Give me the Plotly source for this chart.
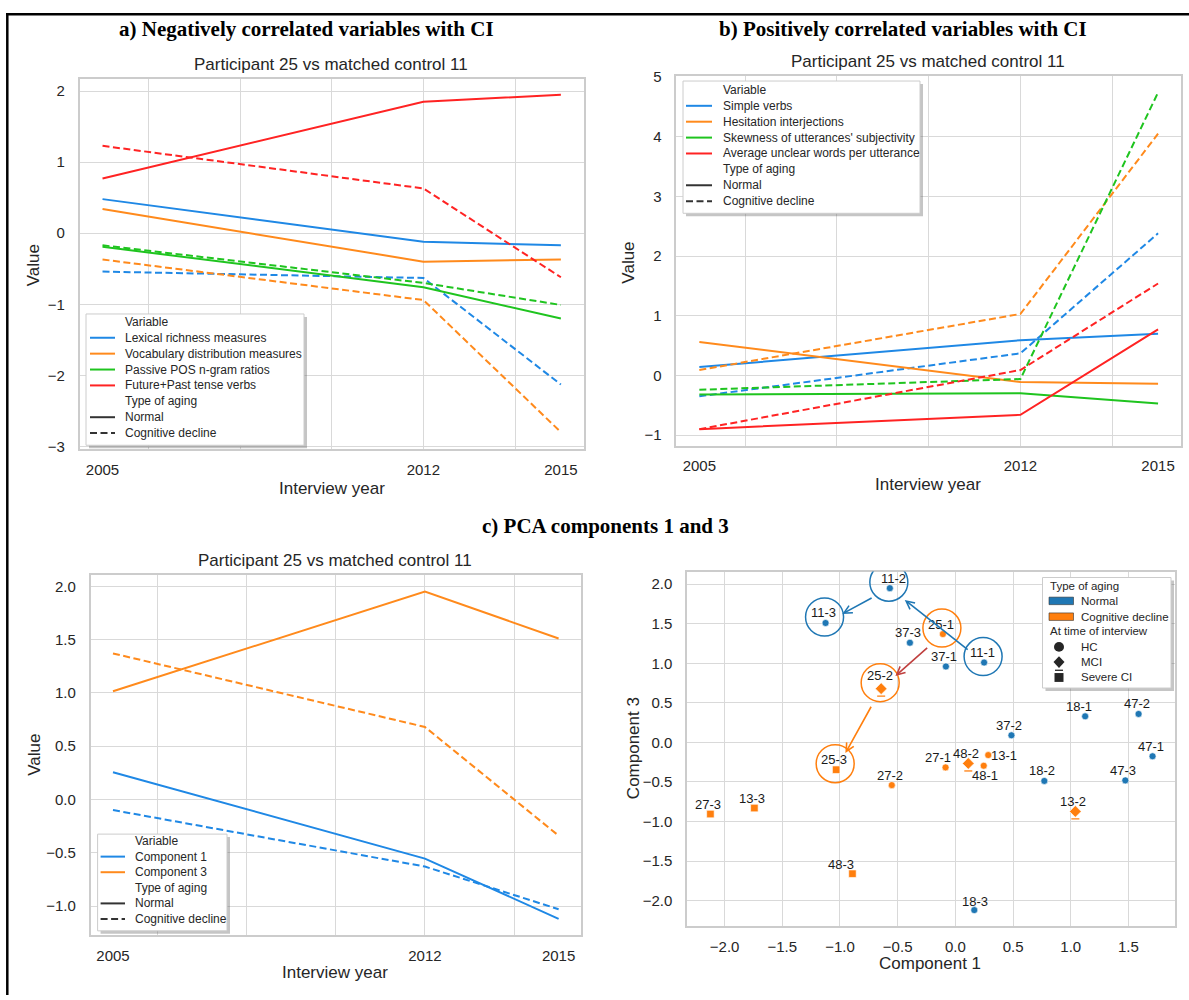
import plotly.graph_objects as go

W, H = 1189, 1000
FONT = "Liberation Sans, Arial, Helvetica, sans-serif"
SERIF = "Liberation Serif, Times New Roman, serif"
TEXT = "#262626"
GRID = "#d9d9d9"
FRAME = "#cccccc"
LINE_COLORS = ["#1f88e5", "#ff8a1c", "#1fc41f", "#ff2323"]
DASH = "7px,3.5px"
PCA_COLORS = {"Normal": "#1f77b4", "Cognitive decline": "#ff7f0e"}

# ---------------- data ----------------
years = [2005, 2012, 2015]
grid_years = [2006, 2008, 2010, 2012, 2014]

# a) variables negatively correlated with cognitive impairment
neg_variables = ["Lexical richness measures", "Vocabulary distribution measures",
                 "Passive POS n-gram ratios", "Future+Past tense verbs"]
neg_normal = [
    [0.48, -0.12, -0.17],
    [0.34, -0.40, -0.37],
    [-0.19, -0.76, -1.20],
    [0.77, 1.85, 1.95],
]
neg_decline = [
    [-0.54, -0.63, -2.13],
    [-0.37, -0.94, -2.80],
    [-0.17, -0.70, -1.01],
    [1.23, 0.63, -0.62],
]

# b) variables positively correlated with cognitive impairment
pos_variables = ["Simple verbs", "Hesitation interjections",
                 "Skewness of utterances' subjectivity",
                 "Average unclear words per utterance"]
pos_normal = [
    [0.14, 0.59, 0.70],
    [0.56, -0.11, -0.14],
    [-0.32, -0.30, -0.47],
    [-0.90, -0.66, 0.77],
]
pos_decline = [
    [-0.35, 0.37, 2.38],
    [0.09, 1.03, 4.05],
    [-0.24, -0.06, 4.74],
    [-0.90, 0.09, 1.54],
]

# c) PCA components over time
pca_variables = ["Component 1", "Component 3"]
pca_normal = [[0.255, -0.555, -1.12], [1.015, 1.95, 1.51]]
pca_decline = [[-0.10, -0.63, -1.03], [1.37, 0.68, -0.34]]

# c) PCA scatter: participant-interview points
pca_points = ["11-1", "11-2", "11-3", "25-1", "25-2", "25-3",
              "37-1", "37-2", "37-3", "18-1", "18-2", "18-3",
              "47-1", "47-2", "47-3", "13-1", "13-2", "13-3",
              "27-1", "27-2", "27-3", "48-1", "48-2", "48-3"]
comp1 = [0.249, -0.568, -1.125, -0.108, -0.643, -1.033,
         -0.082, 0.486, -0.394, 1.125, 0.771, 0.164,
         1.709, 1.588, 1.473, 0.285, 1.040, -1.742,
         -0.085, -0.551, -2.123, 0.246, 0.112, -0.892]
comp3 = [1.01, 1.95, 1.51, 1.37, 0.68, -0.345,
         0.96, 0.09, 1.26, 0.33, -0.487, -2.12,
         -0.175, 0.36, -0.48, -0.16, -0.873, -0.83,
         -0.316, -0.54, -0.906, -0.295, -0.266, -1.66]
pca_aging = ["Normal"] * 3 + ["Cognitive decline"] * 3 + ["Normal"] * 9 + ["Cognitive decline"] * 9
pca_status = ["HC", "HC", "HC", "HC", "MCI", "Severe CI",
              "HC", "HC", "HC", "HC", "HC", "HC",
              "HC", "HC", "HC", "HC", "MCI", "Severe CI",
              "HC", "HC", "Severe CI", "HC", "MCI", "Severe CI"]
highlighted = ["11-1", "11-2", "11-3", "25-1", "25-2", "25-3"]
trajectories = [("11-1", "11-2", "#1f77b4"), ("11-2", "11-3", "#1f77b4"),
                ("25-1", "25-2", "#c0403f"), ("25-2", "25-3", "#ff7f0e")]

# label placement (pixels relative to the point)
label_offsets = {"13-1": (15.5, 0), "48-1": (1.5, -10), "27-1": (-8, 9.5),
                 "48-3": (-11, 9), "18-1": (-5.7, 9.5), "25-2": (-1.5, 13),
                 "11-2": (3.4, 9.7), "18-3": (1, 8.7)}
default_offset = (-2, 10)


def fx(p):
    return p / W


def fy(p):
    return 1 - p / H


fig = go.Figure()
shapes = []
annotations = []


def text_px(x, y, s, size, xanchor="left", angle=0, color=TEXT, family=FONT):
    annotations.append(dict(x=fx(x), y=fy(y), xref="paper", yref="paper", text=s,
                            showarrow=False, xanchor=xanchor, yanchor="middle",
                            textangle=angle,
                            font=dict(size=size, color=color, family=family)))


def legend_box(x0, y0, x1, y1):
    shapes.append(dict(type="rect", xref="paper", yref="paper",
                       x0=fx(x0 + 3), x1=fx(x1 + 3), y0=fy(y1 + 3), y1=fy(y0 + 3),
                       fillcolor="rgba(90,90,90,0.35)", line=dict(width=0), layer="above"))
    shapes.append(dict(type="rect", xref="paper", yref="paper",
                       x0=fx(x0), x1=fx(x1), y0=fy(y1), y1=fy(y0),
                       fillcolor="white", line=dict(color="#cccccc", width=1), layer="above"))


def line_legend(box, first_y, step, text_x, sample, names):
    legend_box(*box)
    entries = [("Variable", None, None)]
    entries += [(n, LINE_COLORS[i], "solid") for i, n in enumerate(names)]
    entries += [("Type of aging", None, None), ("Normal", "#333333", "solid"),
                ("Cognitive decline", "#333333", DASH)]
    for i, (label, color, dash) in enumerate(entries):
        y = first_y + i * step
        if color is not None:
            shapes.append(dict(type="line", xref="paper", yref="paper",
                               x0=fx(sample[0]), x1=fx(sample[1]), y0=fy(y), y1=fy(y),
                               line=dict(color=color, width=2, dash=dash), layer="above"))
        text_px(text_x, y, label, 12)


def add_line_panel(names, normal, decline, xa, ya):
    for i, name in enumerate(names):
        fig.add_trace(go.Scatter(x=years, y=normal[i], mode="lines", name=name,
                                 line=dict(color=LINE_COLORS[i], width=2),
                                 xaxis=xa, yaxis=ya, showlegend=False))
        fig.add_trace(go.Scatter(x=years, y=decline[i], mode="lines", name=name,
                                 line=dict(color=LINE_COLORS[i], width=2, dash=DASH),
                                 xaxis=xa, yaxis=ya, showlegend=False))


add_line_panel(neg_variables, neg_normal, neg_decline, "x", "y")
add_line_panel(pos_variables, pos_normal, pos_decline, "x2", "y2")
add_line_panel(pca_variables, pca_normal, pca_decline, "x3", "y3")

# ---------------- scatter panel ----------------
symbols = {"HC": "circle", "MCI": "diamond", "Severe CI": "square"}
sizes = {"HC": 7, "MCI": 9, "Severe CI": 7.5}
for aging_type in ["Normal", "Cognitive decline"]:
    for st in ["HC", "MCI", "Severe CI"]:
        idx = [i for i in range(len(pca_points))
               if pca_aging[i] == aging_type and pca_status[i] == st]
        if not idx:
            continue
        fig.add_trace(go.Scatter(
            x=[comp1[i] for i in idx], y=[comp3[i] for i in idx], mode="markers",
            text=[pca_points[i] for i in idx],
            marker=dict(symbol=symbols[st], size=sizes[st], color=PCA_COLORS[aging_type],
                        line=dict(color="white", width=0.6)),
            xaxis="x4", yaxis="y4", showlegend=False))

for i, lab in enumerate(pca_points):
    dx, dy = label_offsets.get(lab, default_offset)
    annotations.append(dict(x=comp1[i], y=comp3[i], xref="x4", yref="y4", text=lab,
                            showarrow=False, xshift=dx, yshift=dy,
                            xanchor="center", yanchor="middle",
                            font=dict(size=13, color="#1a1a1a", family=FONT)))
    if pca_status[i] == "MCI":
        shapes.append(dict(type="line", xref="x4", yref="y4", xsizemode="pixel",
                           ysizemode="pixel", xanchor=comp1[i], yanchor=comp3[i],
                           x0=-4, x1=4, y0=-7.5, y1=-7.5,
                           line=dict(color=PCA_COLORS[pca_aging[i]], width=1.3)))

for lab in highlighted:
    i = pca_points.index(lab)
    shapes.append(dict(type="circle", xref="x4", yref="y4", xsizemode="pixel",
                       ysizemode="pixel", xanchor=comp1[i], yanchor=comp3[i],
                       x0=-20, x1=18, y0=-13, y1=25,
                       line=dict(color=PCA_COLORS[pca_aging[i]], width=1.5),
                       fillcolor="rgba(0,0,0,0)", layer="above"))

for a, b, color in trajectories:
    ia, ib = pca_points.index(a), pca_points.index(b)
    annotations.append(dict(x=comp1[ib], y=comp3[ib], ax=comp1[ia], ay=comp3[ia],
                            xref="x4", yref="y4", axref="x4", ayref="y4", text="",
                            showarrow=True, arrowhead=5, arrowsize=1, arrowwidth=1.6,
                            arrowcolor=color, standoff=19, startstandoff=19))

# ---------------- legends ----------------
line_legend((86, 310, 304, 443), 318, 16.1, 123, (90, 115), neg_variables)
line_legend((683, 74, 920, 208), 83, 16.1, 721, (686, 712), pos_variables)
line_legend((97.6, 837, 227, 935), 844, 15.8, 133, (100.6, 125), pca_variables)

legend_box(1042.5, 577, 1171, 689)
text_px(1048.3, 585.3, "Type of aging", 11.5)
for y, aging_type in [(600.7, "Normal"), (616.7, "Cognitive decline")]:
    shapes.append(dict(type="rect", xref="paper", yref="paper",
                       x0=fx(1049), x1=fx(1073.5), y0=fy(y + 3.8), y1=fy(y - 3.8),
                       fillcolor=PCA_COLORS[aging_type],
                       line=dict(color="#333333", width=0.6), layer="above"))
    text_px(1079.3, y, aging_type, 11.5)
text_px(1048.3, 631.7, "At time of interview", 11.5)
cx = 1059
shapes.append(dict(type="circle", xref="paper", yref="paper",
                   x0=fx(cx - 5), x1=fx(cx + 5), y0=fy(647.3 + 5), y1=fy(647.3 - 5),
                   fillcolor="#262626", line=dict(width=0), layer="above"))
text_px(1079.3, 647.3, "HC", 11.5)
yd = 662.7
shapes.append(dict(type="path", xref="paper", yref="paper",
                   path=f"M{fx(cx)},{fy(yd - 6)} L{fx(cx + 5.5)},{fy(yd)} L{fx(cx)},{fy(yd + 6)} L{fx(cx - 5.5)},{fy(yd)} Z",
                   fillcolor="#262626", line=dict(width=0), layer="above"))
shapes.append(dict(type="line", xref="paper", yref="paper",
                   x0=fx(cx - 4), x1=fx(cx + 4), y0=fy(671), y1=fy(671),
                   line=dict(color="#262626", width=1.3), layer="above"))
text_px(1079.3, yd, "MCI", 11.5)
shapes.append(dict(type="rect", xref="paper", yref="paper",
                   x0=fx(cx - 4.5), x1=fx(cx + 4.5), y0=fy(678.3 + 4.5), y1=fy(678.3 - 4.5),
                   fillcolor="#262626", line=dict(width=0), layer="above"))
text_px(1079.3, 678.3, "Severe CI", 11.5)

# ---------------- titles and axis labels ----------------
text_px(306.6, 21, "<b>a) Negatively correlated variables with CI</b>", 21, "center", family=SERIF, color="black")
text_px(903, 21, "<b>b) Positively correlated variables with CI</b>", 21, "center", family=SERIF, color="black")
text_px(605, 525, "<b>c) PCA components 1 and 3</b>", 21, "center", family=SERIF, color="black")

for x, y in [(331, 57), (928.4, 54), (334.8, 560)]:
    text_px(x, y, "Participant 25 vs matched control 11", 17, "center")
for x, y in [(331.5, 487), (928, 483), (334.8, 977)]:
    text_px(x, y, "Interview year", 17, "center")
for x, y in [(33.7, 261), (629, 258), (33.7, 757)]:
    text_px(x, y, "Value", 17, "center", angle=-90)
text_px(930.3, 968, "Component 1", 17, "center")
text_px(632.9, 750, "Component 3", 17, "center", angle=-90)

# page border
shapes.append(dict(type="line", xref="paper", yref="paper", x0=fx(6), x1=1,
                   y0=fy(6.3), y1=fy(6.3), line=dict(color="black", width=2.5)))
shapes.append(dict(type="line", xref="paper", yref="paper", x0=fx(7.3), x1=fx(7.3),
                   y0=fy(5.2), y1=0, line=dict(color="black", width=2.5)))

# ---------------- axes ----------------
def frame_axis(**kw):
    base = dict(showline=True, mirror=True, linecolor=FRAME, linewidth=1.6, zeroline=False,
                showgrid=True, gridcolor=GRID, gridwidth=1.3, ticks="outside",
                tickcolor="rgba(0,0,0,0)", tickfont=dict(size=15, color=TEXT, family=FONT),
                fixedrange=True)
    base.update(kw)
    return base


def year_axis(domain, anchor):
    return frame_axis(domain=domain, anchor=anchor, range=[2004.5, 2015.5],
                      tickmode="array", tickvals=years, ticktext=[str(v) for v in years],
                      showgrid=False, ticklen=6,
                      minor=dict(tickmode="array", tickvals=grid_years, showgrid=True,
                                 gridcolor=GRID, gridwidth=1.3, ticks=""))


fig.update_layout(
    width=W, height=H, margin=dict(l=0, r=0, t=0, b=0),
    paper_bgcolor="white", plot_bgcolor="white", showlegend=False,
    xaxis=year_axis([fx(79.6), fx(583.8)], "y"),
    yaxis=frame_axis(domain=[fy(447), fy(72)], anchor="x", range=[-3.04, 2.17],
                     tickmode="array", tickvals=[-3, -2, -1, 0, 1, 2], ticklen=10),
    xaxis2=year_axis([fx(676.4), fx(1181)], "y2"),
    yaxis2=frame_axis(domain=[fy(443.3), fy(69.3)], anchor="x2", range=[-1.175, 5.01],
                      tickmode="array", tickvals=[-1, 0, 1, 2, 3, 4, 5], ticklen=10),
    xaxis3=year_axis([fx(90.7), fx(580.9)], "y3"),
    yaxis3=frame_axis(domain=[fy(939), fy(574)], anchor="x3", range=[-1.27, 2.11],
                      tickmode="array", tickvals=[-1.0, -0.5, 0.0, 0.5, 1.0, 1.5, 2.0],
                      tickformat=".1f", ticklen=10),
    xaxis4=frame_axis(domain=[fx(687.1), fx(1175.4)], anchor="y4", range=[-2.325, 1.907],
                      tickmode="array", tickvals=[-2.0, -1.5, -1.0, -0.5, 0.0, 0.5, 1.0, 1.5],
                      tickformat=".1f", ticklen=6),
    yaxis4=frame_axis(domain=[fy(930), fy(571)], anchor="x4", range=[-2.32, 2.16],
                      tickmode="array", tickvals=[-2.0, -1.5, -1.0, -0.5, 0.0, 0.5, 1.0, 1.5, 2.0],
                      tickformat=".1f", ticklen=10),
    shapes=shapes, annotations=annotations,
)

fig.write_html("out.html")
